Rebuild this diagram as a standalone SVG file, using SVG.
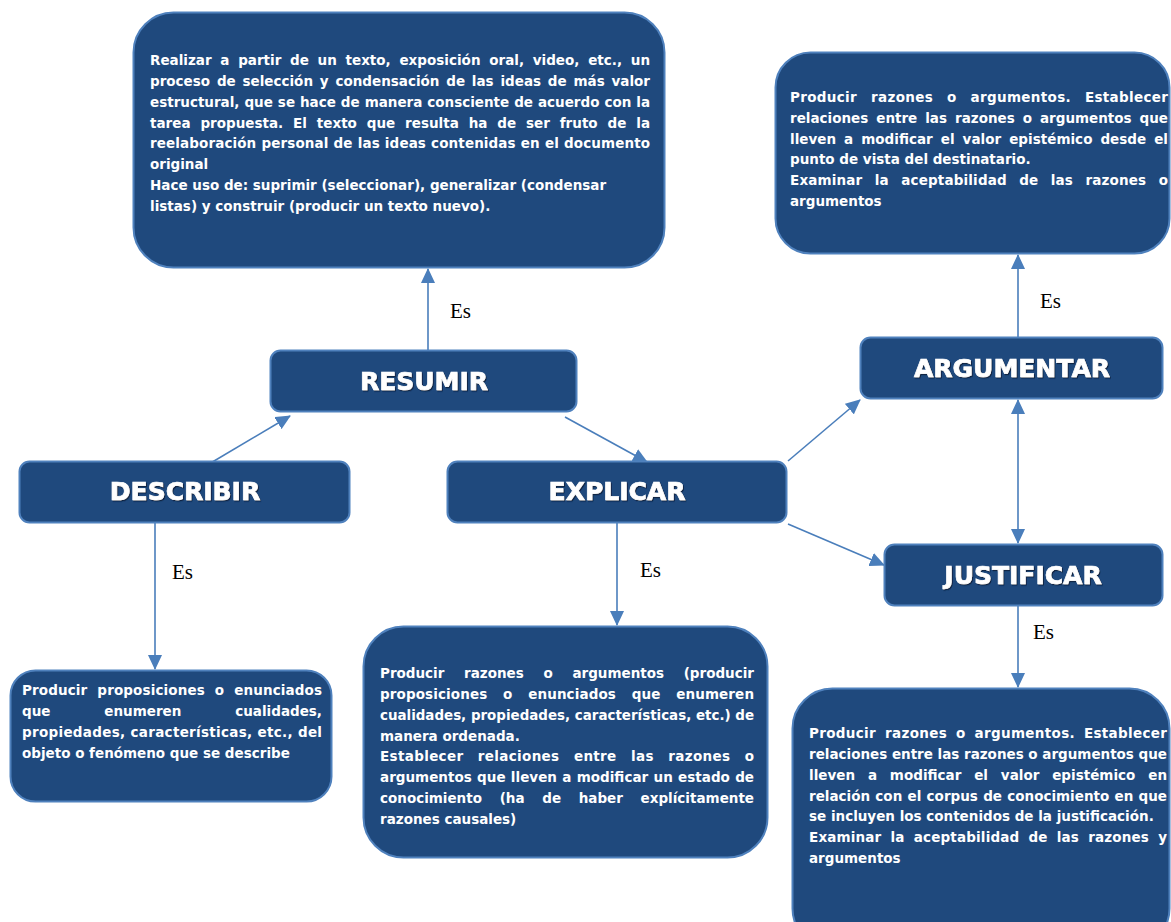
<svg xmlns="http://www.w3.org/2000/svg" width="1171" height="922" viewBox="0 0 1171 922">
<style>
.box{fill:#1f497d;stroke:#4f81bd;stroke-width:2}
.t{font-family:"DejaVu Sans",Verdana,sans-serif;font-weight:bold;font-size:13.5px;fill:#ffffff}
.h{font-family:"DejaVu Sans",Verdana,sans-serif;font-weight:bold;font-size:25px;fill:#ffffff;stroke:#ffffff;stroke-width:0.7;text-anchor:middle;filter:url(#sh)}
.es{font-family:"Liberation Serif","Times New Roman",serif;font-size:21px;fill:#000000}
.c{stroke:#4a7ebb;stroke-width:1.6;fill:none;marker-end:url(#arr)}
</style>
<defs>
<marker id="arr" viewBox="0 0 15 14" markerWidth="15" markerHeight="14" refX="14" refY="7" orient="auto-start-reverse" markerUnits="userSpaceOnUse">
<path d="M0,0 L15,7 L0,14 z" fill="#4a7ebb"/>
</marker>
<filter id="sh" x="-10%" y="-20%" width="120%" height="150%">
<feDropShadow dx="1" dy="1.2" stdDeviation="0.6" flood-color="#0a1f3a" flood-opacity="0.9"/>
</filter>
</defs>

<g id="connectors">
<line class="c" x1="428" y1="350" x2="428" y2="269"/>
<line class="c" x1="209" y1="464" x2="290" y2="416"/>
<line class="c" x1="565" y1="417" x2="647" y2="462"/>
<line class="c" x1="788" y1="461" x2="860" y2="400"/>
<line class="c" x1="788" y1="524" x2="884" y2="565"/>
<line class="c" x1="1018" y1="400" x2="1018" y2="543" style="marker-start:url(#arr)"/>
<line class="c" x1="1018" y1="337" x2="1018" y2="255"/>
<line class="c" x1="1018" y1="606" x2="1018" y2="687"/>
<line class="c" x1="617" y1="523" x2="617" y2="625"/>
<line class="c" x1="155" y1="523" x2="155" y2="669"/>
<text class="es" x="450" y="318">Es</text>
<text class="es" x="1040" y="308">Es</text>
<text class="es" x="1033" y="639">Es</text>
<text class="es" x="640" y="577">Es</text>
<text class="es" x="172" y="579">Es</text>
</g>

<g id="def-resumir">
<rect class="box" x="133.5" y="12.5" width="531" height="255" rx="40"/>
<text class="t" x="150" y="65" word-spacing="4" textLength="500" lengthAdjust="spacing">Realizar a partir de un texto, exposición oral, video, etc., un</text>
<text class="t" x="150" y="85.9" word-spacing="2.1" textLength="500" lengthAdjust="spacing">proceso de selección y condensación de las ideas de más valor</text>
<text class="t" x="150" y="106.7" word-spacing="0.3" textLength="500" lengthAdjust="spacing">estructural, que se hace de manera consciente de acuerdo con la</text>
<text class="t" x="150" y="127.6" word-spacing="5.2" textLength="500" lengthAdjust="spacing">tarea propuesta. El texto que resulta ha de ser fruto de la</text>
<text class="t" x="150" y="148.4" word-spacing="0.3" textLength="500" lengthAdjust="spacing">reelaboración personal de las ideas contenidas en el documento</text>
<text class="t" x="150" y="169.3">original</text>
<text class="t" x="150" y="190.1">Hace uso de: suprimir (seleccionar), generalizar (condensar</text>
<text class="t" x="150" y="211">listas) y construir (producir un texto nuevo).</text>
</g>

<g id="def-argumentar">
<rect class="box" x="775.5" y="52.5" width="394" height="201" rx="35"/>
<text class="t" x="790" y="102" word-spacing="8.9" textLength="378" lengthAdjust="spacing">Producir razones o argumentos. Establecer</text>
<text class="t" x="790" y="122.8" word-spacing="3.3" textLength="378" lengthAdjust="spacing">relaciones entre las razones o argumentos que</text>
<text class="t" x="790" y="143.6" word-spacing="3.3" textLength="378" lengthAdjust="spacing">lleven a modificar el valor epistémico desde el</text>
<text class="t" x="790" y="164.4">punto de vista del destinatario.</text>
<text class="t" x="790" y="185.2" word-spacing="7.6" textLength="378" lengthAdjust="spacing">Examinar la aceptabilidad de las razones o</text>
<text class="t" x="790" y="206">argumentos</text>
</g>

<g id="resumir">
<rect class="box" x="270.5" y="350.5" width="306" height="61" rx="10"/>
<text class="h" x="424" y="390">RESUMIR</text>
</g>

<g id="describir">
<rect class="box" x="19.5" y="461.5" width="330" height="61" rx="10"/>
<text class="h" x="185" y="500">DESCRIBIR</text>
</g>

<g id="explicar">
<rect class="box" x="447.5" y="461.5" width="339" height="61" rx="10"/>
<text class="h" x="617" y="500">EXPLICAR</text>
</g>

<g id="argumentar">
<rect class="box" x="860.5" y="337.5" width="302" height="61" rx="10"/>
<text class="h" x="1012" y="377">ARGUMENTAR</text>
</g>

<g id="justificar">
<rect class="box" x="884.5" y="544.5" width="278" height="61" rx="10"/>
<text class="h" x="1023" y="584">JUSTIFICAR</text>
</g>

<g id="def-describir">
<rect class="box" x="10.5" y="670.5" width="321" height="131" rx="25"/>
<text class="t" x="22" y="695" word-spacing="5.2" textLength="300" lengthAdjust="spacing">Producir proposiciones o enunciados</text>
<text class="t" x="22" y="716" word-spacing="49.2" textLength="300" lengthAdjust="spacing">que enumeren cualidades,</text>
<text class="t" x="22" y="737" textLength="300" lengthAdjust="spacing">propiedades, características, etc., del</text>
<text class="t" x="22" y="758">objeto o fenómeno que se describe</text>
</g>

<g id="def-explicar">
<rect class="box" x="363.5" y="626.5" width="404" height="231" rx="40"/>
<text class="t" x="380" y="678" word-spacing="15" textLength="374" lengthAdjust="spacing">Producir razones o argumentos (producir</text>
<text class="t" x="380" y="698.9" word-spacing="10.9" textLength="374" lengthAdjust="spacing">proposiciones o enunciados que enumeren</text>
<text class="t" x="380" y="719.7" textLength="374" lengthAdjust="spacingAndGlyphs">cualidades, propiedades, características, etc.) de</text>
<text class="t" x="380" y="740.6">manera ordenada.</text>
<text class="t" x="380" y="761.4" word-spacing="9.4" textLength="374" lengthAdjust="spacing">Establecer relaciones entre las razones o</text>
<text class="t" x="380" y="782.3" word-spacing="0.6" textLength="374" lengthAdjust="spacing">argumentos que lleven a modificar un estado de</text>
<text class="t" x="380" y="803.1" word-spacing="13" textLength="374" lengthAdjust="spacing">conocimiento (ha de haber explícitamente</text>
<text class="t" x="380" y="824">razones causales)</text>
</g>

<g id="def-justificar">
<rect class="box" x="792.5" y="688.5" width="377" height="260" rx="40"/>
<text class="t" x="809" y="738" word-spacing="3.9" textLength="358" lengthAdjust="spacing">Producir razones o argumentos. Establecer</text>
<text class="t" x="809" y="758.8" textLength="358" lengthAdjust="spacing">relaciones entre las razones o argumentos que</text>
<text class="t" x="809" y="779.7" word-spacing="8.1" textLength="358" lengthAdjust="spacing">lleven a modificar el valor epistémico en</text>
<text class="t" x="809" y="800.5" word-spacing="0.6" textLength="358" lengthAdjust="spacing">relación con el corpus de conocimiento en que</text>
<text class="t" x="809" y="821.3">se incluyen los contenidos de la justificación.</text>
<text class="t" x="809" y="842.2" word-spacing="4.3" textLength="358" lengthAdjust="spacing">Examinar la aceptabilidad de las razones y</text>
<text class="t" x="809" y="863">argumentos</text>
</g>
</svg>
